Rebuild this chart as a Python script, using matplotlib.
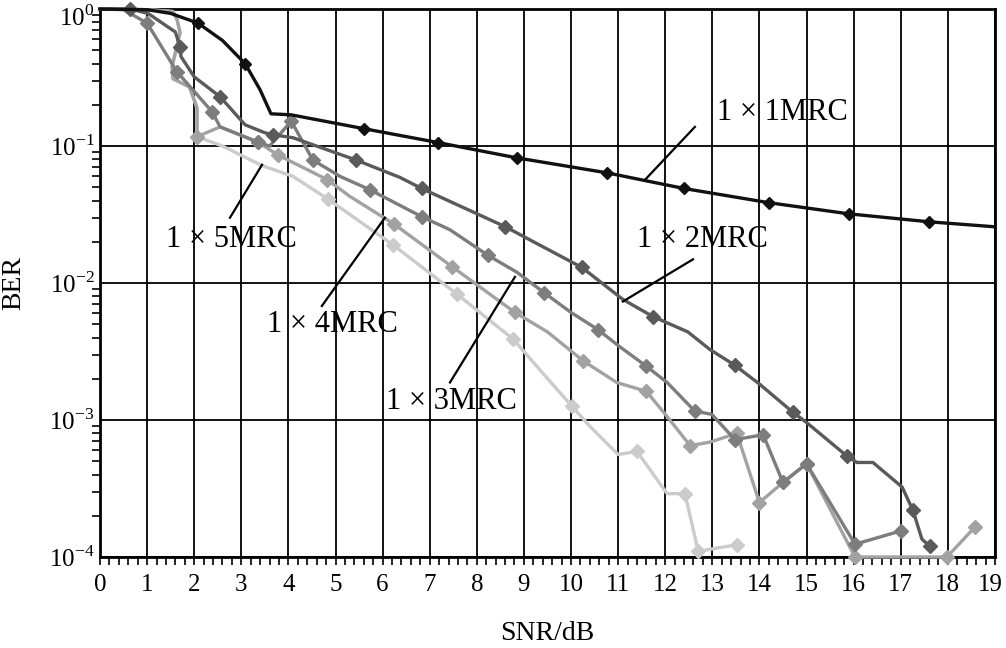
import matplotlib
matplotlib.use("Agg")
import matplotlib.pyplot as plt
from matplotlib.ticker import MultipleLocator, LogLocator, NullFormatter, FixedLocator
from matplotlib.transforms import ScaledTranslation

plt.rcParams['font.family'] = ['Liberation Serif', 'DejaVu Serif']
plt.rcParams['mathtext.fontset'] = 'custom'
plt.rcParams['mathtext.rm'] = 'Liberation Serif'

# 1x1 MRC (black)
snr_1 = [0, 1.0, 1.5, 2.08, 2.6, 3.08, 3.4, 3.63, 4.06, 5.6, 7.18, 8.85, 10.76, 12.4, 14.2, 15.9, 17.6, 18.96]
ber_1 = [1.0, 0.99, 0.93, 0.79, 0.59, 0.40, 0.257, 0.172, 0.169, 0.134, 0.106, 0.082, 0.0638, 0.049,
         0.0386, 0.032, 0.028, 0.0258]
marks_1 = [3, 5, 9, 10, 11, 12, 13, 14, 15, 16]

# 1x2 MRC (dark grey)
snr_2 = [0, 0.64, 1.02, 1.6, 1.70, 1.72, 2.0, 2.55, 3.08, 3.5, 3.67, 4.1, 4.82, 5.44, 6.37, 6.83, 8.6,
         10.23, 11.1, 11.74, 12.48, 12.95, 13.48, 14.01, 14.71, 15.0, 15.86, 16.07, 16.41, 17.03, 17.26,
         17.45, 17.62]
ber_2 = [1.0, 1.0, 0.93, 0.68, 0.53, 0.45, 0.32, 0.229, 0.143, 0.125, 0.121, 0.115, 0.094, 0.079, 0.059,
         0.049, 0.0258, 0.0130, 0.0076, 0.00569, 0.0044, 0.00327, 0.00251, 0.00182, 0.00114, 0.00096,
         0.000545, 0.00049, 0.00049, 0.000324, 0.000219, 0.000135, 0.00012]
marks_2 = [1, 4, 7, 10, 13, 15, 16, 17, 19, 22, 24, 26, 30, 32]

# 1x3 MRC (medium grey)
snr_3 = [0, 0.5, 1.0, 1.63, 2.38, 2.55, 3.35, 3.6, 4.06, 4.52, 5.1, 5.73, 6.83, 7.43, 8.24, 8.85, 9.43,
         10.0, 10.57, 11.0, 11.6, 12.04, 12.63, 12.99, 13.48, 14.08, 14.5, 15.0, 16.03, 17.0]
ber_3 = [1.0, 0.99, 0.79, 0.35, 0.178, 0.138, 0.107, 0.1, 0.152, 0.079, 0.06, 0.048, 0.0305, 0.0245,
         0.0159, 0.012, 0.0085, 0.0061, 0.00458, 0.0035, 0.00247, 0.00188, 0.00116, 0.0011, 0.00072,
         0.00078, 0.00035, 0.00048, 0.000124, 0.000155]
marks_3 = [2, 3, 4, 6, 8, 9, 11, 12, 14, 16, 18, 20, 22, 24, 25, 26, 27, 28, 29]

# 1x4 MRC (light grey)
snr_4 = [0, 1.0, 1.55, 1.64, 1.7, 1.53, 1.55, 1.9, 2.06, 2.06, 2.55, 3.35, 3.78, 4.82, 5.3, 6.24, 7.47,
         8.81, 9.5, 10.26, 10.97, 11.6, 12.04, 12.53, 12.95, 13.52, 14.0, 14.5, 15.0, 16.03, 17.98, 18.58]
ber_4 = [1.0, 0.99, 0.96, 0.83, 0.67, 0.38, 0.31, 0.27, 0.19, 0.117, 0.138, 0.107, 0.086, 0.057, 0.043,
         0.027, 0.0132, 0.0061, 0.0044, 0.0027, 0.00188, 0.00162, 0.00106, 0.00065, 0.00069, 0.0008,
         0.00025, 0.00035, 0.00048, 0.0001, 0.0001, 0.000166]
marks_4 = [9, 11, 12, 13, 15, 16, 17, 19, 21, 23, 25, 26, 27, 28, 29, 30, 31]

# 1x5 MRC (lightest grey)
snr_5 = [0, 1.0, 1.55, 1.64, 1.7, 1.53, 1.55, 1.9, 2.06, 2.06, 2.6, 3.44, 4.1, 4.84, 6.22, 7.58, 8.77,
         9.4, 10.02, 10.4, 11.0, 11.4, 12.04, 12.42, 12.7, 13.52]
ber_5 = [1.0, 0.99, 0.96, 0.83, 0.67, 0.38, 0.31, 0.27, 0.19, 0.117, 0.1, 0.072, 0.06, 0.041, 0.019,
         0.0083, 0.0039, 0.0022, 0.00126, 0.0009, 0.00056, 0.00059, 0.00029, 0.00029, 0.00011, 0.000123]
marks_5 = [9, 13, 14, 15, 16, 18, 21, 23, 24, 25]

labels = ['1 × 1MRC', '1 × 2MRC', '1 × 3MRC', '1 × 4MRC', '1 × 5MRC']
xticks = list(range(0, 20))
yticks = [1e-4, 1e-3, 1e-2, 1e-1, 1e0]
ytick_labels = ['10$^{-4}$', '10$^{-3}$', '10$^{-2}$', '10$^{-1}$', '10$^{0}$']

fig = plt.figure(figsize=(10.06, 6.48), dpi=100)
ax = fig.add_axes([0.0994, 0.1404, 0.8896, 0.8456])

series = [
    (snr_5, ber_5, marks_5, '#cbcbcb', 7.5),
    (snr_4, ber_4, marks_4, '#a2a2a2', 7.5),
    (snr_3, ber_3, marks_3, '#7d7d7d', 7.5),
    (snr_2, ber_2, marks_2, '#5a5a5a', 7.5),
    (snr_1, ber_1, marks_1, '#111111', 6.5),
]
for x, y, m, c, ms in series:
    ax.plot(x, y, color=c, linewidth=2.4, marker='D', markersize=ms, markevery=m,
            markerfacecolor=c, markeredgecolor=c, clip_on=False, zorder=3)

ax.set_yscale('log')
ax.set_xlim(0, 19)
ax.set_ylim(1e-4, 1)

ax.xaxis.set_major_locator(FixedLocator(xticks))
ax.xaxis.set_minor_locator(MultipleLocator(0.2))
ax.yaxis.set_major_locator(FixedLocator(yticks))
ax.set_yticklabels(ytick_labels)
ax.yaxis.set_minor_locator(LogLocator(base=10, subs=range(2, 10)))
ax.yaxis.set_minor_formatter(NullFormatter())

ax.tick_params(axis='both', which='major', labelsize=18, length=6, width=1.2, direction='out')
ax.tick_params(axis='both', which='minor', length=6, width=1.2, direction='out')
ax.tick_params(axis='y', which='major', length=0, pad=4)
ax.tick_params(axis='x', which='major', pad=6)

# keep the top and right-most tick labels inside the canvas
top_lab = ax.get_yticklabels()[-1]
top_lab.set_transform(top_lab.get_transform() + ScaledTranslation(0, -5 / 72, fig.dpi_scale_trans))
right_lab = ax.get_xticklabels()[-1]
right_lab.set_transform(right_lab.get_transform() + ScaledTranslation(-3 / 72, 0, fig.dpi_scale_trans))

ax.grid(which='major', color='black', linewidth=1.3)
for s in ax.spines.values():
    s.set_linewidth(2)

ax.set_xlabel('SNR/dB', fontsize=20, labelpad=18)
ax.set_ylabel('BER', fontsize=20)
ax.yaxis.set_label_coords(-0.083, 0.5)

# labels with leader lines
notes = [
    (labels[0], (14.48, 0.175), (12.63, 0.138), (11.57, 0.0567)),
    (labels[1], (12.8, 0.0207), (12.59, 0.0149), (11.1, 0.00733)),
    (labels[2], (7.47, 0.00137), (7.43, 0.00188), (8.81, 0.0111)),
    (labels[3], (4.93, 0.005), (4.71, 0.0068), (6.05, 0.030)),
    (labels[4], (2.8, 0.0207), (2.76, 0.030), (3.44, 0.073)),
]
for text, tpos, p0, p1 in notes:
    ax.plot([p0[0], p1[0]], [p0[1], p1[1]], color='black', linewidth=1.6, zorder=4)
    ax.text(tpos[0], tpos[1], text, fontsize=22, ha='center', va='center', zorder=5)

fig.savefig('out.png', dpi=100)
